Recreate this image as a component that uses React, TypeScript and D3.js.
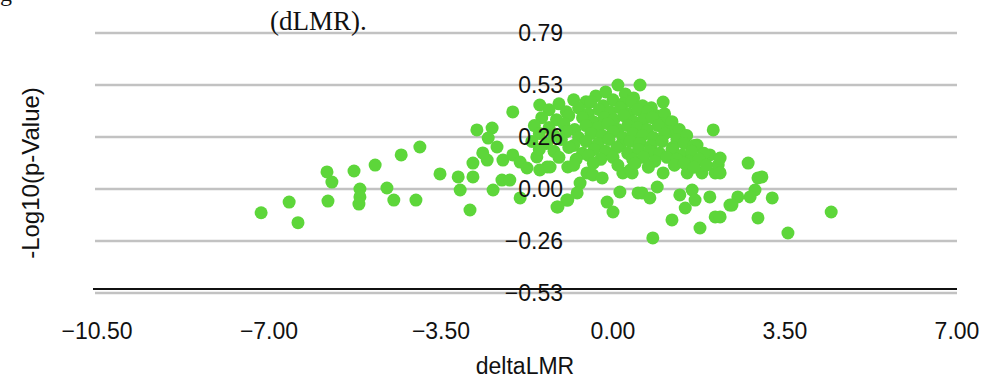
import * as React from "react";
import * as d3 from "d3";

// y ticks as shown (rounded from steps of 0.2625)
const yTicks = [-0.525, -0.2625, 0, 0.2625, 0.525, 0.7875];
const xTicks = [-10.5, -7, -3.5, 0, 3.5, 7];

// scattered points outside the dense centre [deltaLMR, -log10 p]
const outerX = [
    -7.16, -6.59, -6.41, -5.82, -5.72, -5.8, -5.27, -4.84, -4.31, -3.93, -5.15, -5.15, -5.17, -4.6, -4.46, -4.01,
    -3.52, -3.15, -3.11, -2.85, -2.85, -2.04, -1.49, -2.77, -2.46, -2.54, -2.36, -2.56, -2.24, -2.04, -1.89, -1.75,
    -2.44, -2.26, -2.1, -1.89, -2.91, -1.14, -0.94, -2.65, -1.49, -1.55, -1.34,
    -1.28, -0.92, -0.53, -0.41, -0.22, -0.67, -0.73, -0.92, -1.12, 0.14, -0.12, 0.0, 0.2, 0.35, 0.51,
    0.39, 1.02, 0.9, 0.59, 0.75, 1.36, 1.61, 1.67, 1.97, 1.47, 1.2, 1.77, 2.08, 0.81, 2.38, 2.08, 1.81, 1.51,
    0.55, 0.1, 1.02, 2.04, 1.71, 1.97, 2.14,
    2.75, 2.95, 3.03, 2.89, 2.79, 2.54, 2.42, 3.24, 2.95, 3.56, 4.44, 2.18, 2.18, 2.18,
];
const outerY = [
    -0.12, -0.066, -0.17, 0.086, 0.035, -0.061, 0.091, 0.121, 0.172, 0.212, 0.0, -0.04, -0.076, 0.005, -0.056, -0.056,
    0.076, 0.061, -0.005, 0.131, 0.061, 0.389, 0.424, 0.298, 0.308, 0.257, 0.212, 0.146, 0.146, 0.172, 0.136, 0.106,
    -0.005, 0.045, 0.045, -0.045, -0.106, -0.091, -0.056, 0.182, 0.096, 0.162, 0.111,
    0.111, 0.111, 0.081, 0.071, 0.056, 0.03, -0.02, -0.056, -0.091, -0.015, -0.066, -0.116, 0.081, 0.096, -0.02,
    0.081, 0.081, 0.01, -0.02, -0.045, -0.03, -0.005, -0.056, -0.04, -0.096, -0.156, -0.197, -0.141, -0.247, -0.081, 0.081, 0.081, 0.081,
    0.525, 0.525, 0.439, 0.298, 0.222, 0.172, 0.121,
    0.131, 0.056, 0.061, -0.005, -0.04, -0.04, -0.081, -0.045, -0.146, -0.222, -0.116, 0.156, 0.081, -0.141,
];

// dense centre cluster
const coreX = [
    -0.35, -0.15, 0.25, 0.42, -0.55,
    -1.1, -0.8, -0.45, -0.2, 0.0, 0.2, 0.38, 0.6, 0.78,
    -1.3, -0.95, -0.7, -0.5, -0.28, -0.05, 0.15, 0.32, 0.5, 0.7, 0.88, 1.05,
    -1.45, -1.15, -0.9, -0.62, -0.4, -0.18, 0.02, 0.22, 0.42, 0.62, 0.8, 1.0, 1.2,
    -1.6, -1.3, -1.0, -0.78, -0.55, -0.3, -0.1, 0.1, 0.3, 0.5, 0.7, 0.92, 1.15, 1.35,
    -1.5, -1.2, -0.95, -0.7, -0.45, -0.22, 0.0, 0.2, 0.4, 0.6, 0.82, 1.05, 1.3, 1.5,
    -1.65, -1.35, -1.05, -0.8, -0.55, -0.3, -0.08, 0.15, 0.35, 0.55, 0.78, 1.0, 1.22, 1.45, 1.65,
    -1.5, -1.2, -0.9, -0.62, -0.38, -0.15, 0.08, 0.3, 0.52, 0.75, 0.95, 1.2, 1.4, 1.6, 1.85,
    -1.1, -0.75, -0.5, -0.25, 0.0, 0.4, 0.62, 0.85, 1.1, 1.3, 1.55, 1.75,
    -0.8, -0.4, 0.1, 0.45, 0.72, 1.25, 1.45, 1.65, 1.9,
];
const coreY = [
    0.47, 0.49, 0.48, 0.46, 0.44,
    0.43, 0.45, 0.44, 0.42, 0.45, 0.43, 0.44, 0.42, 0.41,
    0.4, 0.39, 0.41, 0.38, 0.4, 0.39, 0.41, 0.38, 0.4, 0.39, 0.37, 0.38,
    0.36, 0.35, 0.37, 0.36, 0.34, 0.36, 0.35, 0.37, 0.34, 0.35, 0.36, 0.33, 0.34,
    0.32, 0.31, 0.33, 0.3, 0.32, 0.31, 0.33, 0.3, 0.32, 0.31, 0.3, 0.32, 0.29, 0.3,
    0.28, 0.27, 0.29, 0.26, 0.28, 0.27, 0.29, 0.26, 0.28, 0.27, 0.26, 0.28, 0.25, 0.27,
    0.24, 0.23, 0.25, 0.22, 0.24, 0.23, 0.25, 0.22, 0.24, 0.23, 0.22, 0.24, 0.21, 0.23, 0.22,
    0.2, 0.19, 0.21, 0.18, 0.2, 0.19, 0.21, 0.18, 0.2, 0.19, 0.18, 0.2, 0.17, 0.19, 0.18,
    0.16, 0.15, 0.17, 0.15, 0.16, 0.15, 0.16, 0.14, 0.16, 0.15, 0.14, 0.15,
    0.12, 0.13, 0.12, 0.13, 0.11, 0.12, 0.13, 0.11, 0.12,
];

const App: React.FC = () => {
    const W = 987, H = 379;
    const x = d3.scaleLinear().domain([-10.5, 7]).range([97, 957]);
    const y = d3.scaleLinear().domain([-0.525, 0.7875]).range([293, 33]);

    const points = [
        ...outerX.map((v, i) => [v, outerY[i]]),
        ...coreX.map((v, i) => [v, coreY[i]]),
    ];

    const sans = "'Liberation Sans', Arial, sans-serif";

    return (
        <svg width={W} height={H} style={{ position: "absolute", left: 0, top: 0, background: "#fff" }}>
            {/* bits of caption text above the chart */}
            <text x={0} y={1} fontFamily="'Liberation Serif', serif" fontSize={24} fill="#111">g</text>

            {yTicks.map(t => (
                <line key={t} x1={x(-10.5) - 2} x2={x(7)} y1={y(t)} y2={y(t)} stroke="#c2c2c2" strokeWidth={2.5} />
            ))}
            <line x1={x(-10.5) - 4} x2={x(7)} y1={y(-0.525) - 4} y2={y(-0.525) - 4} stroke="#111" strokeWidth={2} />

            <text x={270} y={30} fontFamily="'Liberation Serif', serif" fontSize={27} fill="#111">(dLMR).</text>

            {points.map((p, i) => (
                <circle key={i} cx={x(p[0])} cy={y(p[1])} r={6.5} fill="#5dd63a" />
            ))}

            {yTicks.map(t => (
                <text key={t} x={563} y={y(t)} dy="0.36em" textAnchor="end" fontFamily={sans} fontSize={23} fill="#111">
                    {d3.format(".2f")(t)}
                </text>
            ))}
            {xTicks.map(t => (
                <text key={t} x={x(t)} y={331} dy="0.36em" textAnchor="middle" fontFamily={sans} fontSize={23} fill="#111">
                    {d3.format(".2f")(t)}
                </text>
            ))}
            <text x={525} y={366} dy="0.36em" textAnchor="middle" fontFamily={sans} fontSize={23} fill="#111">deltaLMR</text>
            <text transform="translate(30,173) rotate(-90)" dy="0.36em" textAnchor="middle"
                fontFamily={sans} fontSize={24} fill="#111">-Log10(p-Value)</text>
        </svg>
    );
};

export default App;
